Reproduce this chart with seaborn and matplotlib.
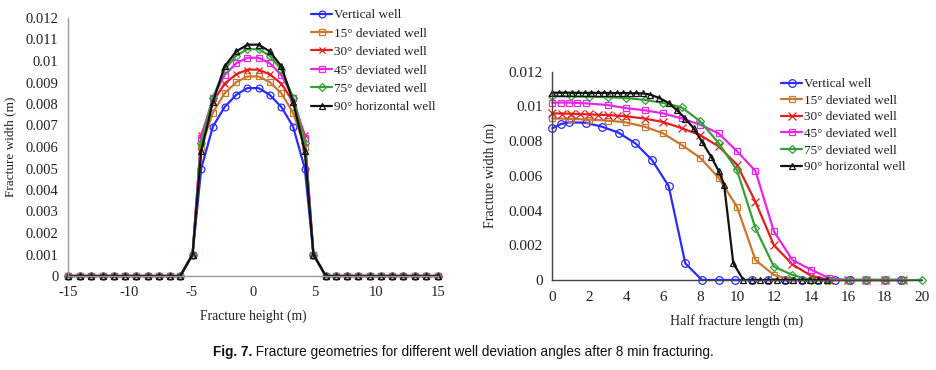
import matplotlib
matplotlib.use("Agg")
import matplotlib.pyplot as plt
from matplotlib import font_manager
from matplotlib.ticker import FuncFormatter, MultipleLocator
import seaborn as sns

# ---------------- data ----------------
series_labels = ["Vertical well", "15° deviated well", "30° deviated well",
                 "45° deviated well", "75° deviated well", "90° horizontal well"]

# Left panel: fracture width vs fracture height
left_x = [-15, -14.05, -13.1, -12.2, -11.3, -10.4, -9.45, -8.55, -7.6, -6.7, -5.9,
          -4.9, -4.2, -3.25, -2.3, -1.35, -0.45, 0.45, 1.35, 2.3, 3.25, 4.2, 4.9,
          5.9, 6.7, 7.6, 8.55, 9.45, 10.4, 11.3, 12.2, 13.1, 14.05, 15]
left_vertical = [0, 0, 0, 0, 0, 0, 0, 0, 0, 0, 0,
                 0.0010, 0.0050, 0.00695, 0.00786, 0.00843, 0.00874,
                 0.00874, 0.00843, 0.00786, 0.00695, 0.0050, 0.0010,
                 0, 0, 0, 0, 0, 0, 0, 0, 0, 0, 0]
left_15 = [0, 0, 0, 0, 0, 0, 0, 0, 0, 0, 0,
           0.0010, 0.0060, 0.0076, 0.0085, 0.00902, 0.00928,
           0.00928, 0.00902, 0.0085, 0.0076, 0.0060, 0.0010,
           0, 0, 0, 0, 0, 0, 0, 0, 0, 0, 0]
left_30 = [0, 0, 0, 0, 0, 0, 0, 0, 0, 0, 0,
           0.0010, 0.00655, 0.0081, 0.00895, 0.00938, 0.0096,
           0.0096, 0.00938, 0.00895, 0.0081, 0.00655, 0.0010,
           0, 0, 0, 0, 0, 0, 0, 0, 0, 0, 0]
left_45 = [0, 0, 0, 0, 0, 0, 0, 0, 0, 0, 0,
           0.0010, 0.0064, 0.0083, 0.00935, 0.0099, 0.01015,
           0.01015, 0.0099, 0.00935, 0.0083, 0.0064, 0.0010,
           0, 0, 0, 0, 0, 0, 0, 0, 0, 0, 0]
left_75 = [0, 0, 0, 0, 0, 0, 0, 0, 0, 0, 0,
           0.0010, 0.0062, 0.0083, 0.0096, 0.01025, 0.01055,
           0.01055, 0.01025, 0.0096, 0.0083, 0.0062, 0.0010,
           0, 0, 0, 0, 0, 0, 0, 0, 0, 0, 0]
left_90 = [0, 0, 0, 0, 0, 0, 0, 0, 0, 0, 0,
           0.0010, 0.0058, 0.0081, 0.00975, 0.01045, 0.01076,
           0.01076, 0.01045, 0.00975, 0.0081, 0.0058, 0.0010,
           0, 0, 0, 0, 0, 0, 0, 0, 0, 0, 0]

# Right panel: fracture width vs half fracture length
r_vert_x = [0, 0.45, 0.9, 1.8, 2.7, 3.6, 4.5, 5.4, 6.3, 7.2, 8.1, 9.0, 9.9, 10.8,
            11.7, 12.6, 13.5, 14.4, 15.3, 16.1, 17.0, 18.0, 18.9]
r_vert_y = [0.00873, 0.00898, 0.00908, 0.00906, 0.00883, 0.00848, 0.00787, 0.00691,
            0.00541, 0.00096, 0, 0, 0, 0, 0, 0, 0, 0, 0, 0, 0, 0, 0]
r_15_x = [0, 1, 2, 3, 4, 5, 6, 7, 8, 9, 10, 11, 12, 13, 14, 15, 16, 17, 18, 19]
r_15_y = [0.00931, 0.00928, 0.00924, 0.00918, 0.00908, 0.00883, 0.00845, 0.00778,
          0.00705, 0.0059, 0.00422, 0.00115, 0.00029, 0, 0, 0, 0, 0, 0, 0]
r_30_x = [0, 0.5, 1, 1.5, 2, 2.5, 3, 3.5, 4, 5, 6, 7, 8, 9, 10, 11, 12, 13, 14,
          15, 16, 17, 18, 19]
r_30_y = [0.0096, 0.00959, 0.00958, 0.00956, 0.00954, 0.00952, 0.0095, 0.00947,
          0.00943, 0.0093, 0.0091, 0.00875, 0.00835, 0.0077, 0.00665, 0.0045,
          0.0020, 0.0009, 0.00025, 0, 0, 0, 0, 0]
r_45_x = [0, 0.45, 0.9, 1.35, 1.8, 3, 4, 5, 6, 7, 8, 9, 10, 11, 12, 13, 14, 15,
          16, 17, 18, 19]
r_45_y = [0.01021, 0.01022, 0.01022, 0.0102, 0.01018, 0.01008, 0.0099, 0.00978,
          0.0096, 0.00931, 0.00895, 0.00845, 0.00742, 0.00628, 0.0028, 0.00115,
          0.0006, 0.0001, 0, 0, 0, 0]
r_75_x = [0, 1, 2, 3, 4, 5, 6, 7, 8, 9, 10, 11, 12, 13, 14, 15, 16, 17, 18, 19, 20]
r_75_y = [0.0106, 0.01058, 0.01056, 0.01053, 0.01048, 0.01038, 0.0102, 0.00995,
          0.00915, 0.0079, 0.00633, 0.00298, 0.00077, 0.00029, 0, 0, 0, 0, 0, 0, 0]
r_90_x = [0, 0.35, 0.7, 1.05, 1.4, 1.75, 2.1, 2.45, 2.8, 3.15, 3.5, 3.85, 4.2, 4.55,
          4.9, 5.3, 5.8, 6.3, 6.75, 7.2, 7.65, 8.1, 8.6, 9.0, 9.3, 9.8, 10.35,
          10.8, 11.25, 11.7, 12.15, 12.6, 13.05, 13.5, 13.95, 14.4, 14.85]
r_90_y = [0.01079, 0.01079, 0.01079, 0.01079, 0.01078, 0.01078, 0.01078, 0.01078,
          0.01078, 0.01077, 0.01077, 0.01077, 0.01076, 0.01076, 0.01075, 0.01068,
          0.01048, 0.0102, 0.00978, 0.0093, 0.00875, 0.00797, 0.0071, 0.0063,
          0.0055, 0.00096, 0, 0, 0, 0, 0, 0, 0, 0, 0, 0, 0]

left_xticks = [-15, -10, -5, 0, 5, 10, 15]
right_xticks = [0, 2, 4, 6, 8, 10, 12, 14, 16, 18, 20]

caption_bold = "Fig. 7."
caption_rest = " Fracture geometries for different well deviation angles after 8 min fracturing."

# ---------------- style ----------------
colors = ["#2b2bff", "#c8772e", "#e01f1f", "#e825e8", "#35a035", "#111111"]
markers = ["o", "s", "x", "s", "D", "^"]
msizes = [5.5, 5.0, 5.5, 5.0, 4.2, 5.0]

sns.set_style("white")
plt.rcParams["font.family"] = ["Liberation Serif", "DejaVu Serif"]

fig = plt.figure(figsize=(9.36, 3.70), dpi=100)
axL = fig.add_axes([68 / 936, 1 - 276 / 370, 370 / 936, 258 / 370])
axR = fig.add_axes([552.3 / 936, 1 - 280 / 370, 369.4 / 936, 208.3 / 370])

left_series = [left_vertical, left_15, left_30, left_45, left_75, left_90]
for ys, lab, c, m, ms in zip(left_series, series_labels, colors, markers, msizes):
    sns.lineplot(x=left_x, y=ys, ax=axL, color=c, marker=m, markersize=ms - 0.6,
                 markerfacecolor="none", markeredgecolor=c, markeredgewidth=0.9,
                 linewidth=1.6, label=lab, estimator=None, sort=False, clip_on=False)

right_series = [(r_vert_x, r_vert_y), (r_15_x, r_15_y), (r_30_x, r_30_y),
                (r_45_x, r_45_y), (r_75_x, r_75_y), (r_90_x, r_90_y)]
for (xs, ys), lab, c, m, ms in zip(right_series, series_labels, colors, markers, msizes):
    sns.lineplot(x=xs, y=ys, ax=axR, color=c, marker=m, markersize=ms,
                 markerfacecolor="none", markeredgecolor=c, markeredgewidth=0.9,
                 linewidth=1.6, label=lab, estimator=None, sort=False, clip_on=False)

fmt = FuncFormatter(lambda v, p: "%g" % round(v, 4))

# left axes
axL.set_xlim(-15, 15)
axL.set_ylim(0, 0.012)
axL.set_xticks(left_xticks)
axL.yaxis.set_major_locator(MultipleLocator(0.001))
axL.yaxis.set_major_formatter(fmt)
axL.set_xticklabels([str(v) for v in left_xticks])
for s in ["top", "right"]:
    axL.spines[s].set_visible(False)
for s in ["left", "bottom"]:
    axL.spines[s].set_color("#9a9a9a")
    axL.spines[s].set_linewidth(1.0)
axL.tick_params(axis="both", direction="in", length=3, width=0.8, color="#777777",
                labelsize=10.5, labelcolor="#222222")
axL.tick_params(axis="y", pad=7)
axL.tick_params(axis="x", pad=7)
axL.set_xlabel("Fracture height (m)", fontsize=9.8, color="#222222")
axL.set_ylabel("Fracture width (m)", fontsize=9.5, color="#222222")
axL.xaxis.set_label_coords(0.5, -0.13)
axL.yaxis.set_label_coords(-0.141, 0.5)

# right axes
axR.set_xlim(0, 20)
axR.set_ylim(0, 0.012)
axR.set_xticks(right_xticks)
axR.set_xticklabels([str(v) for v in right_xticks])
axR.yaxis.set_major_locator(MultipleLocator(0.002))
axR.yaxis.set_major_formatter(fmt)
for s in ["top", "right"]:
    axR.spines[s].set_visible(False)
for s in ["left", "bottom"]:
    axR.spines[s].set_color("#444444")
    axR.spines[s].set_linewidth(1.0)
axR.tick_params(axis="both", direction="in", length=3.5, width=0.9, color="#444444",
                labelsize=11, labelcolor="#222222")
axR.tick_params(axis="y", pad=7)
axR.tick_params(axis="x", pad=8)
axR.set_xlabel("Half fracture length (m)", fontsize=10, color="#222222")
axR.set_ylabel("Fracture width (m)", fontsize=10, color="#222222")
axR.xaxis.set_label_coords(0.5, -0.165)
axR.yaxis.set_label_coords(-0.15, 0.5)

# legends
legL = axL.legend(loc="upper left", bbox_to_anchor=(311 / 936, 1 - 9 / 370),
                  bbox_transform=fig.transFigure, frameon=False, fontsize=9.5,
                  handlelength=1.6, handletextpad=0.15, labelspacing=0.47,
                  borderpad=0, borderaxespad=0)
legR = axR.legend(loc="upper left", bbox_to_anchor=(781 / 936, 1 - 78 / 370),
                  bbox_transform=fig.transFigure, frameon=False, fontsize=9.5,
                  handlelength=1.6, handletextpad=0.15, labelspacing=0.33,
                  borderpad=0, borderaxespad=0)
for leg in (legL, legR):
    for t in leg.get_texts():
        t.set_color("#222222")

# caption
names = {f.name for f in font_manager.fontManager.ttflist}
cap_family = ["Liberation Sans Narrow"] if "Liberation Sans Narrow" in names else ["Liberation Sans", "DejaVu Sans"]
cap_size = 9.8
t1 = fig.text(213 / 936, 1 - 352 / 370, caption_bold, fontsize=cap_size,
              fontweight="bold", family=cap_family, va="center", ha="left", color="#111111")
fig.canvas.draw()
bb = t1.get_window_extent(renderer=fig.canvas.get_renderer())
x_next = bb.x1 / fig.bbox.width
fig.text(x_next, 1 - 352 / 370, caption_rest, fontsize=cap_size,
         family=cap_family, va="center", ha="left", color="#111111")

fig.savefig("out.png", dpi=100)
